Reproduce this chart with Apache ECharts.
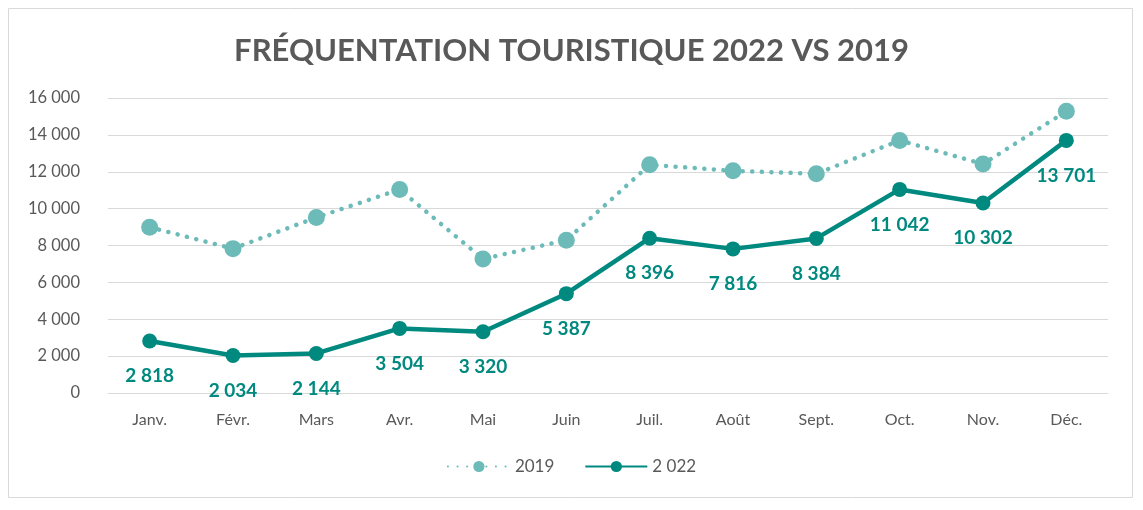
<!DOCTYPE html>
<html>
<head>
<meta charset="utf-8">
<script src="https://cdn.jsdelivr.net/npm/echarts@6/dist/echarts.min.js"></script>
<style>
html,body{margin:0;padding:0;background:#fff;}
#c{width:1143px;height:510px;}
</style>
</head>
<body>
<div id="c"></div>
<script>
const categories = ['Janv.', 'Févr.', 'Mars', 'Avr.', 'Mai', 'Juin', 'Juil.', 'Août', 'Sept.', 'Oct.', 'Nov.', 'Déc.'];
const values2019 = [8990, 7830, 9520, 11040, 7270, 8290, 12380, 12050, 11890, 13700, 12420, 15280];
const values2022 = [2818, 2034, 2144, 3504, 3320, 5387, 8396, 7816, 8384, 11042, 10302, 13701];
const seriesNames = ['2019', '2 022'];
const titleText = 'FRÉQUENTATION TOURISTIQUE 2022 VS 2019';

function fmt(v){ return String(Math.round(v)).replace(/\B(?=(\d{3})+(?!\d))/g, ' '); }

const chart = echarts.init(document.getElementById('c'));
const font = 'Lato, "Open Sans", sans-serif';
chart.setOption({
  animation: false,
  textStyle: {fontFamily: font},
  graphic: [{
    type: 'rect', shape: {x: 8.5, y: 8.5, width: 1124, height: 489},
    style: {fill: 'none', stroke: '#d9d9d9', lineWidth: 1}, z: -1
  }],
  title: {
    text: titleText, left: 'center', top: 30,
    textStyle: {fontFamily: font, fontSize: 31, fontWeight: 'bold', color: '#595959'}
  },
  legend: {
    bottom: 30, left: 'center', itemWidth: 62, itemHeight: 14, itemGap: 30,
    textStyle: {fontSize: 17, color: '#595959', fontFamily: font},
    data: seriesNames
  },
  grid: {left: 108, right: 35, top: 98, bottom: 117},
  xAxis: {
    type: 'category', data: categories, boundaryGap: true,
    axisLine: {show: false}, axisTick: {show: false},
    axisLabel: {color: '#595959', fontSize: 16, margin: 19}
  },
  yAxis: {
    type: 'value', min: 0, max: 16000, interval: 2000,
    axisLine: {show: false}, axisTick: {show: false},
    splitLine: {lineStyle: {color: '#d9d9d9', width: 1}},
    axisLabel: {color: '#595959', fontSize: 16.5, margin: 28, formatter: fmt}
  },
  series: [{
    name: seriesNames[0], type: 'line', data: values2019,
    symbol: 'circle', symbolSize: 17,
    itemStyle: {color: '#6cbbb9'},
    lineStyle: {color: '#6cbbb9', width: 4.5, type: [0.1, 9.5], cap: 'round'}
  }, {
    name: seriesNames[1], type: 'line', data: values2022,
    symbol: 'circle', symbolSize: 15,
    itemStyle: {color: '#00897f'},
    lineStyle: {color: '#00897f', width: 4.5},
    label: {
      show: true, position: 'bottom', distance: 18,
      color: '#00897f', fontSize: 19, fontWeight: 'bold', fontFamily: font,
      formatter: p => fmt(p.value)
    }
  }]
});
</script>
</body>
</html>
